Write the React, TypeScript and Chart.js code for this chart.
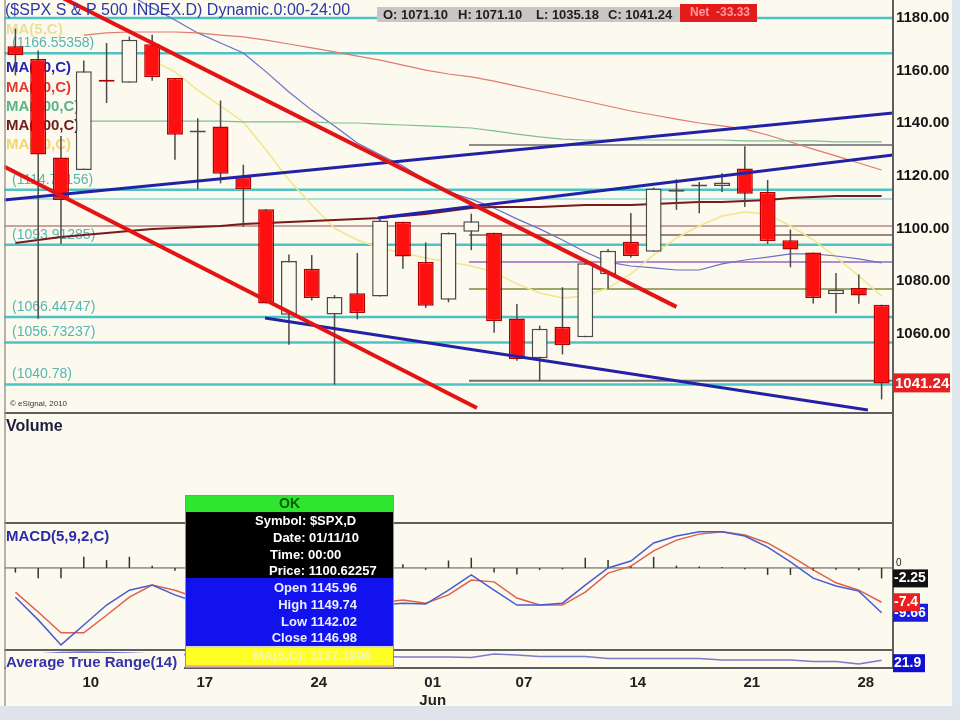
import React, { useEffect, useRef } from 'react';
import { Chart, registerables } from 'chart.js';

Chart.register(...registerables);

const FONT = "'Liberation Sans', Arial, Helvetica, sans-serif";
const BG = '#fcf9ee';

// ---------------- data ----------------
const dates = [
  '05/05', '05/06', '05/07', '05/10', '05/11', '05/12', '05/13', '05/14', '05/17', '05/18',
  '05/19', '05/20', '05/21', '05/24', '05/25', '05/26', '05/27', '05/28', '06/01', '06/02',
  '06/03', '06/04', '06/07', '06/08', '06/09', '06/10', '06/11', '06/14', '06/15', '06/16',
  '06/17', '06/18', '06/21', '06/22', '06/23', '06/24', '06/25', '06/28', '06/29',
];
const opens = [
  1169.24, 1164.38, 1127.04, 1122.27, 1156.39, 1155.43, 1170.04, 1157.19, 1136.52, 1138.78,
  1119.57, 1107.34, 1067.26, 1084.78, 1067.42, 1075.51, 1074.27, 1102.59, 1087.3, 1073.01,
  1098.82, 1098.43, 1065.84, 1050.81, 1062.75, 1058.77, 1082.65, 1095.0, 1091.21, 1114.02,
  1115.98, 1116.16, 1122.79, 1113.9, 1095.57, 1090.93, 1075.1, 1077.5, 1071.1,
];
const highs = [
  1175.95, 1167.58, 1135.13, 1163.85, 1170.48, 1172.87, 1173.57, 1157.19, 1141.88, 1148.66,
  1124.27, 1107.34, 1090.16, 1089.95, 1074.75, 1090.75, 1103.52, 1102.59, 1094.77, 1098.56,
  1105.67, 1098.43, 1071.36, 1063.15, 1077.74, 1087.85, 1092.25, 1105.91, 1115.59, 1118.74,
  1117.72, 1121.01, 1131.23, 1118.5, 1099.64, 1090.93, 1083.11, 1082.6, 1071.1,
];
const lows = [
  1158.15, 1065.79, 1094.15, 1122.27, 1147.71, 1155.43, 1156.14, 1126.14, 1114.96, 1117.2,
  1100.66, 1071.58, 1055.9, 1072.7, 1040.78, 1065.59, 1074.27, 1084.78, 1069.89, 1072.03,
  1091.81, 1060.5, 1049.86, 1042.17, 1052.25, 1058.77, 1077.12, 1089.03, 1091.21, 1107.13,
  1105.87, 1113.93, 1108.24, 1094.18, 1085.31, 1071.6, 1067.89, 1071.45, 1035.18,
];
const closes = [
  1165.87, 1128.15, 1110.88, 1159.73, 1155.79, 1171.67, 1157.44, 1135.68, 1136.94, 1120.8,
  1115.05, 1071.59, 1087.69, 1073.65, 1074.03, 1067.95, 1103.06, 1089.41, 1070.71, 1098.38,
  1102.83, 1064.88, 1050.47, 1062.0, 1055.69, 1086.84, 1091.6, 1089.63, 1115.23, 1114.61,
  1116.04, 1117.51, 1113.2, 1095.31, 1092.04, 1073.69, 1076.76, 1074.57, 1041.24,
];

// moving averages (null = not drawn)
const ma10 = [
  null, null, null, null, null, null, 1164.0, 1159.5, 1152.6, 1146.6,
  1140.5, 1129.85, 1118.5, 1109.0, 1100.2, 1095.7, 1092.65, 1090.75, 1088.85, 1087.3,
  1085.8, 1083.5, 1079.0, 1075.55, 1073.65, 1074.4, 1077.45, 1082.8, 1090.0, 1096.45,
  1101.0, 1104.8, 1106.3, 1105.55, 1101.0, 1095.7, 1089.2, 1082.0, 1074.4,
];
const ma20 = [
  null, null, null, null, null, 1188.7, 1183.8, 1179.2, 1174.3, 1170.5,
  1166.7, 1159.5, 1151.9, 1145.0, 1139.0, 1132.5, 1128.0, 1123.8, 1118.5, 1113.9,
  1111.2, 1107.8, 1103.7, 1099.9, 1095.7, 1091.1, 1087.3, 1085.8, 1085.1, 1084.3,
  1084.3, 1086.6, 1088.1, 1089.2, 1090.4, 1090.4, 1089.6, 1088.5, 1087.0,
];
const ma50 = [
  null, null, null, 1173.5, 1174.3, 1174.65, 1174.65, 1174.65, 1174.3, 1173.5,
  1172.8, 1171.6, 1170.1, 1168.6, 1167.1, 1165.5, 1164.0, 1162.1, 1160.2, 1158.7,
  1157.6, 1156.0, 1154.1, 1152.25, 1150.35, 1148.45, 1146.55, 1144.65, 1143.15, 1141.6,
  1140.1, 1139.0, 1137.8, 1135.55, 1132.9, 1130.2, 1127.6, 1124.9, 1122.25,
];
const ma100 = [
  null, null, null, 1140.85, 1140.85, 1140.85, 1140.85, 1140.85, 1140.85, 1140.85,
  1140.5, 1140.5, 1140.5, 1140.5, 1140.1, 1140.1, 1139.7, 1139.35, 1139.0, 1138.6,
  1138.2, 1137.1, 1135.9, 1134.8, 1134.0, 1133.65, 1133.65, 1133.65, 1133.65, 1133.65,
  1133.65, 1133.65, 1133.3, 1133.3, 1133.3, 1133.3, 1132.9, 1132.9, 1132.9,
];
const ma200 = [
  1094.55, 1095.7, 1096.8, 1097.6, 1098.35, 1099.1, 1099.85, 1100.25, 1100.6, 1101.0,
  1101.75, 1102.15, 1102.5, 1102.9, 1103.3, 1103.65, 1104.0, 1104.8, 1105.55, 1106.7,
  1107.85, 1108.2, 1108.2, 1108.2, 1108.6, 1109.0, 1109.0, 1109.0, 1109.35, 1109.7,
  1110.1, 1110.1, 1110.5, 1110.9, 1111.6, 1112.0, 1112.4, 1112.4, 1112.4,
];

// MACD(5,9,2,C)
const macdLine = [
  -6.3, -11.2, -16.6, -12.3, -8.0, -4.8, -3.7, -5.8, -7.5, -9.0,
  -10.5, -13.0, -12.0, -11.0, -10.5, -10.0, -8.0, -7.6, -7.8, -4.8,
  -1.5, -4.8, -8.0, -8.0, -7.6, -3.7, 0.0, 1.5, 5.4, 6.9,
  7.8, 7.8, 6.9, 4.5, 1.3, -2.2, -3.9, -5.0, -9.66,
];
const signalLine = [
  -5.2, -9.5, -14.0, -14.0, -10.2, -6.3, -3.7, -4.8, -6.5, -8.0,
  -9.5, -11.5, -12.0, -11.2, -10.8, -10.3, -7.5, -6.9, -7.6, -5.8,
  -2.6, -3.0, -6.5, -8.0, -8.0, -5.2, -1.1, 0.4, 3.7, 6.0,
  7.3, 7.8, 7.1, 5.4, 2.6, -0.4, -3.2, -4.8, -7.4,
];
const macdHist = [
  -1.0, -2.2, -2.2, 2.4, 1.7, 2.4, 0.5, -0.6, -0.8, -1.0,
  -1.0, -1.2, 0.4, 0.5, 0.6, 0.8, 0.7, 0.8, -0.4, 1.6,
  2.2, -1.0, -1.4, -0.4, -0.3, 2.2, 1.7, 0.5, 2.4, 0.5,
  0.3, 0.2, -0.3, -1.5, -1.5, -0.6, -0.4, -0.5, -2.25,
];
// Average True Range(14)
const atr = [
  24.0, 25.0, 25.8, 26.0, 25.8, 25.5, 25.0, 24.8, 24.6, 24.5,
  24.3, 24.6, 24.8, 24.5, 24.6, 24.2, 23.8, 23.5, 23.5, 23.5,
  23.3, 25.0, 24.5, 23.7, 23.7, 23.7, 22.8, 22.8, 22.8, 22.8,
  22.8, 22.0, 22.0, 22.0, 22.0, 21.2, 21.2, 20.0, 21.9,
];

// horizontal levels
const cyanLevels = [1180.0, 1166.55358, 1114.76156, 1093.91285, 1066.44747, 1056.73237, 1040.78];
const cyanLabelLevels = [1166.55358, 1114.76156, 1093.91285, 1066.44747, 1056.73237, 1040.78];
const paleCyanLevels = [1111.25];
const roseLevels = [1101.0];
const rightLevels = [1131.75, 1097.6, 1087.3, 1077.1, 1042.2];
const rightLevelColors = ['#8c8c8c', '#9c8678', '#b08cc8', '#9aa86a', '#6e6e6e'];

// trend lines (bar index, price)
const redTrends = [
  [{ x: 2.0, y: 1187.9 }, { x: 29.0, y: 1070.3 }],
  [{ x: -0.5, y: 1123.6 }, { x: 20.25, y: 1031.9 }],
];
const blueTrends = [
  [{ x: -0.5, y: 1110.85 }, { x: 38.5, y: 1143.9 }],
  [{ x: 15.9, y: 1104.0 }, { x: 38.5, y: 1127.95 }],
  [{ x: 10.95, y: 1066.1 }, { x: 37.4, y: 1031.1 }],
];

// axes labels
const weekStartIdx = [3, 8, 13, 18, 22, 27, 32, 37];
const weekLabels: any[] = ['10', '17', '24', ['01', 'Jun'], '07', '14', '21', '28'];
const priceTicks = [1060, 1080, 1100, 1120, 1140, 1160, 1180];

// texts
const titleText = '($SPX S & P 500 INDEX.D) Dynamic.0:00-24:00';
const maLabels = ['MA(5,C)', 'MA(20,C)', 'MA(50,C)', 'MA(100,C)', 'MA(200,C)', 'MA(10,C)'];
const maLabelColors = ['#e8e09a', '#2424b4', '#e23a30', '#5cb48a', '#6e1c1c', '#f2d870'];
const popupInfo = ['Symbol: $SPX,D', 'Date: 01/11/10', 'Time: 00:00', 'Price: 1100.62257'];
const popupOhlc = ['Open 1145.96', 'High 1149.74', 'Low 1142.02', 'Close 1146.98'];
const popupMa = 'MA(5,C): 1137.1996';

// ---------------- overlay plugin ----------------
const overlay = {
  id: 'esignalOverlay',
  beforeDraw(chart: any) {
    const c = chart.ctx;
    c.save();
    c.fillStyle = BG;
    c.fillRect(0, 0, chart.width, chart.height);
    c.fillStyle = '#dde5ed';
    c.fillRect(952, 0, chart.width - 952, chart.height);
    c.fillStyle = '#dfe4ea';
    c.fillRect(0, 706, chart.width, chart.height - 706);
    c.restore();
  },
  beforeDatasetsDraw(chart: any) {
    const c = chart.ctx;
    const ys = chart.scales.y;
    const ms = chart.scales.macd;
    const { left, right } = chart.chartArea;
    c.save();
    c.textBaseline = 'middle';
    c.textAlign = 'left';
    c.font = `bold 15px ${FONT}`;
    const maY = [30, 68, 88, 107, 126, 145];
    maLabels.forEach((t, k) => {
      c.fillStyle = maLabelColors[k];
      c.fillText(t, 6, maY[k]);
    });
    c.font = `14px ${FONT}`;
    c.fillStyle = '#55b6b2';
    cyanLabelLevels.forEach((v) => c.fillText(`(${v})`, 12, ys.getPixelForValue(v) - 10));
    const z = ms.getPixelForValue(0);
    c.strokeStyle = '#555';
    c.lineWidth = 1;
    c.beginPath();
    c.moveTo(left, z);
    c.lineTo(right, z);
    c.stroke();
    c.restore();
  },
  afterDatasetsDraw(chart: any) {
    const c = chart.ctx;
    const { left, right } = chart.chartArea;
    const ys = chart.scales.y;
    const vs = chart.scales.vol;
    const ms = chart.scales.macd;
    const as = chart.scales.atr;
    const last = closes.length - 1;
    c.save();
    // panel frames
    c.strokeStyle = '#5e5e5e';
    c.lineWidth = 2;
    [ys.bottom, vs.bottom, ms.bottom, as.bottom].forEach((yb: number) => {
      c.beginPath();
      c.moveTo(left, yb);
      c.lineTo(right, yb);
      c.stroke();
    });
    c.beginPath();
    c.moveTo(right, 0);
    c.lineTo(right, as.bottom);
    c.stroke();
    c.strokeStyle = '#9a9a9a';
    c.lineWidth = 1.5;
    c.beginPath();
    c.moveTo(left + 1, 0);
    c.lineTo(left + 1, 706);
    c.stroke();

    c.textBaseline = 'middle';
    c.textAlign = 'left';
    // title
    c.font = `16px ${FONT}`;
    c.fillStyle = '#2b3aa6';
    c.fillText(titleText, 5, 11);
    // OHLC strip
    c.fillStyle = '#c6c6c6';
    c.fillRect(377, 7, 305, 15);
    c.fillStyle = '#e41b1b';
    c.fillRect(680, 4, 77, 18);
    c.font = `bold 13px ${FONT}`;
    c.fillStyle = '#1e1e1e';
    const strip: [string, number][] = [
      [`O: ${opens[last].toFixed(2)}`, 383],
      [`H: ${highs[last].toFixed(2)}`, 458],
      [`L: ${lows[last].toFixed(2)}`, 536],
      [`C: ${closes[last].toFixed(2)}`, 608],
    ];
    strip.forEach(([t, x]) => c.fillText(t, x, 15));
    c.font = `bold 12px ${FONT}`;
    c.fillStyle = '#ff9c9c';
    c.fillText(`Net  ${(closes[last] - closes[last - 1]).toFixed(2)}`, 690, 13);

    // last price label
    const yl = ys.getPixelForValue(closes[last]);
    c.fillStyle = '#e42222';
    c.fillRect(right, yl - 10, 57, 19);
    c.font = `bold 15px ${FONT}`;
    c.fillStyle = '#fff';
    c.fillText(closes[last].toFixed(2), right + 2, yl);

    // copyright
    c.font = `8px ${FONT}`;
    c.fillStyle = '#333';
    c.fillText('\u00a9 eSignal, 2010', 10, ys.bottom - 9);

    // panel titles
    c.font = `bold 16px ${FONT}`;
    c.fillStyle = '#1d1d3d';
    c.fillText('Volume', 6, vs.top + 14);
    c.font = `bold 15px ${FONT}`;
    c.fillStyle = '#2b2ba6';
    c.fillText('MACD(5,9,2,C)', 6, ms.top + 14);
    c.fillStyle = BG;
    c.fillRect(left + 2, as.top + 3, 178, 16);
    c.fillStyle = '#3434a8';
    c.fillText('Average True Range(14)', 6, as.top + 13);

    // MACD value labels
    const z = ms.getPixelForValue(0);
    c.font = `10px ${FONT}`;
    c.fillStyle = '#222';
    c.fillText('0', right + 3, z - 5);
    c.font = `bold 14px ${FONT}`;
    const box = (yy: number, txt: string, color: string, w: number) => {
      c.fillStyle = color;
      c.fillRect(right, yy - 9, w, 18);
      c.fillStyle = '#fff';
      c.fillText(txt, right + 1, yy);
    };
    box(ms.getPixelForValue(macdHist[last]), macdHist[last].toFixed(2), '#111', 35);
    box(ms.getPixelForValue(macdLine[last]), macdLine[last].toFixed(2), '#1a1ae0', 35);
    box(ms.getPixelForValue(signalLine[last]), signalLine[last].toFixed(1), '#e82020', 27);
    box(as.getPixelForValue(atr[last]) + 3, atr[last].toFixed(1), '#1010d0', 32);

    // popup
    const px = 186;
    const pw = 207;
    c.fillStyle = '#2ee62e';
    c.fillRect(px, 496, pw, 16);
    c.fillStyle = '#000';
    c.fillRect(px, 512, pw, 66);
    c.fillStyle = '#1212ee';
    c.fillRect(px, 578, pw, 68);
    c.fillStyle = '#d8d8d8';
    c.fillRect(px, 646, pw, 2);
    c.fillStyle = '#ffff26';
    c.fillRect(px, 648, pw, 17);
    c.fillStyle = '#e8b0b0';
    c.fillRect(px, 665, pw, 2);
    c.strokeStyle = '#909090';
    c.lineWidth = 1;
    c.strokeRect(px - 0.5, 495.5, pw + 1, 172);
    c.font = `bold 14px ${FONT}`;
    c.fillStyle = '#0d5a0d';
    c.textAlign = 'center';
    c.fillText('OK', px + pw / 2, 504);
    c.font = `bold 13px ${FONT}`;
    c.fillStyle = '#fff';
    c.textAlign = 'left';
    const infoX = [255, 273, 270, 269];
    const infoY = [521, 538, 555, 571];
    popupInfo.forEach((t, k) => c.fillText(t, infoX[k], infoY[k]));
    c.textAlign = 'right';
    c.fillStyle = '#ececff';
    const ohlcY = [588, 605, 622, 638];
    popupOhlc.forEach((t, k) => c.fillText(t, 357, ohlcY[k]));
    c.textAlign = 'center';
    c.fillStyle = '#f6f6b4';
    c.fillText(popupMa, 312, 656);
    c.restore();
  },
};

export default function App() {
  const ref = useRef<HTMLCanvasElement | null>(null);

  useEffect(() => {
    document.body.style.margin = '0';
    const canvas = ref.current;
    if (!canvas) return;
    Chart.defaults.font.family = FONT;

    const n = dates.length;
    const ix = dates.map((_, i) => i);
    const isUp = ix.map((i) => closes[i] >= opens[i]);
    const pts = (arr: (number | null)[]) => arr.map((v, i) => ({ x: i, y: v }));
    const X0 = -0.5;
    const X1 = n - 0.5;
    const XR = 19.9;
    const hline = (v: number, a: number, b: number) => [{ x: a, y: v }, { x: b, y: v }];
    const line = (data: any[], color: string, width: number, yAxisID = 'y', order = 3) => ({
      type: 'line',
      data,
      borderColor: color,
      borderWidth: width,
      pointRadius: 0,
      pointHoverRadius: 0,
      fill: false,
      tension: 0,
      yAxisID,
      order,
    });

    const datasets: any[] = [
      ...redTrends.map((d) => line(d, '#e41414', 4, 'y', 0)),
      ...blueTrends.map((d) => line(d, '#2222a6', 3, 'y', 0)),
      {
        type: 'bar',
        data: ix.map((i) => ({ x: i, y: [Math.min(opens[i], closes[i]), Math.max(opens[i], closes[i])] })),
        backgroundColor: ix.map((i) => (isUp[i] ? BG : '#ff1010')),
        borderColor: ix.map((i) => (isUp[i] ? '#4a4a4a' : '#b00000')),
        borderWidth: 1.5,
        borderSkipped: false,
        grouped: false,
        barPercentage: 0.7,
        categoryPercentage: 1,
        minBarLength: 2,
        yAxisID: 'y',
        order: 1,
      },
      {
        type: 'bar',
        data: ix.map((i) => ({ x: i, y: [lows[i], highs[i]] })),
        backgroundColor: '#4a4a4a',
        borderWidth: 0,
        grouped: false,
        maxBarThickness: 1.5,
        yAxisID: 'y',
        order: 2,
      },
      line(pts(ma200), '#7a1a1a', 2),
      line(pts(ma100), '#7fbf8f', 1.2),
      line(pts(ma50), '#e07a6a', 1.2),
      line(pts(ma20), '#6a70c8', 1.2),
      line(pts(ma10), '#f0e68a', 1.5),
      ...cyanLevels.map((v) => line(hline(v, X0, X1), '#4ec3c3', 2.5, 'y', 4)),
      ...paleCyanLevels.map((v) => line(hline(v, X0, X1), '#8fd8d8', 1.5, 'y', 4)),
      ...roseLevels.map((v) => line(hline(v, X0, X1), '#c9a2a0', 2, 'y', 4)),
      ...rightLevels.map((v, k) => line(hline(v, XR, X1), rightLevelColors[k], 2, 'y', 4)),
      line(pts(macdLine), '#4a5ad0', 1.5, 'macd', 3),
      line(pts(signalLine), '#e0604a', 1.5, 'macd', 3),
      {
        type: 'bar',
        data: pts(macdHist),
        backgroundColor: '#333',
        borderWidth: 0,
        grouped: false,
        maxBarThickness: 1.5,
        yAxisID: 'macd',
        order: 3,
      },
      line(pts(atr), '#7a7ac8', 1.5, 'atr', 3),
    ];

    const noPad = (s: any) => {
      s.paddingTop = 0;
      s.paddingBottom = 0;
      s.paddingLeft = 0;
      s.paddingRight = 0;
    };

    const paneAxis = (weight: number, min: number, max: number, extra: any = {}) => ({
      type: 'linear',
      position: 'right',
      stack: 'panes',
      stackWeight: weight,
      min,
      max,
      offset: false,
      grid: { display: false, drawTicks: false },
      border: { display: false },
      ticks: { display: false },
      afterFit: (s: any) => {
        s.width = 67;
        noPad(s);
      },
      ...extra,
    });

    const chart = new Chart(canvas, {
      data: { datasets },
      options: {
        responsive: false,
        animation: false,
        events: [],
        layout: { autoPadding: false, padding: { left: 4, right: 0, top: 0, bottom: 0 } },
        plugins: { legend: { display: false }, tooltip: { enabled: false } },
        scales: {
          x: {
            type: 'linear',
            position: 'bottom',
            min: X0,
            max: X1,
            offset: false,
            grid: { display: false, drawTicks: false, offset: false },
            border: { display: false },
            afterBuildTicks: (s: any) => {
              s.ticks = weekStartIdx.map((v) => ({ value: v }));
            },
            afterFit: (s: any) => {
              s.height = 52;
              noPad(s);
            },
            ticks: {
              autoSkip: false,
              maxRotation: 0,
              padding: 6,
              labelOffset: 7,
              color: '#222',
              font: { size: 15, weight: 'bold' },
              callback: (_v: any, k: number) => weekLabels[k],
            },
          },
          y: paneAxis(413, 1030.0, 1186.8, {
            afterBuildTicks: (s: any) => {
              s.ticks = priceTicks.map((v) => ({ value: v }));
            },
            ticks: {
              display: true,
              padding: 3,
              color: '#151515',
              font: { size: 15, weight: 'bold' },
              callback: (v: any) => Number(v).toFixed(2),
            },
          }),
          vol: paneAxis(110, 0, 1),
          macd: paneAxis(127, -17.7, 9.7),
          atr: paneAxis(18, 18, 27),
        },
      } as any,
      plugins: [overlay],
    } as any);

    return () => chart.destroy();
  }, []);

  return (
    <div style={{ width: 960, height: 720, position: 'relative' }}>
      <canvas ref={ref} width={960} height={720} style={{ display: 'block' }} />
    </div>
  );
}
